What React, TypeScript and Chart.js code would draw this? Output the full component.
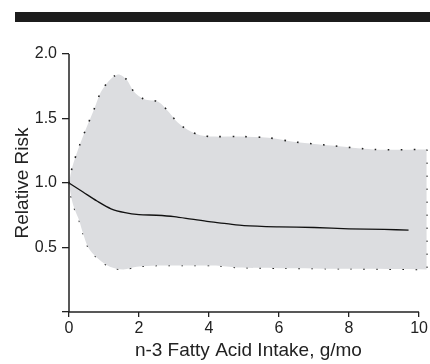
import React, { useEffect, useRef } from "react";
import { Chart, registerables } from "chart.js";

Chart.register(...registerables);

// Upper confidence bound
const upperX = [0, 0.1, 0.3, 0.5, 0.7, 0.9, 1.1, 1.3, 1.45, 1.65, 1.85, 2.15, 2.55, 2.85, 3.1, 3.4, 3.75, 4.1, 4.9, 5.7, 6.4, 7.5, 8.7, 10.22];
const upperY = [1.0, 1.13, 1.29, 1.43, 1.56, 1.7, 1.78, 1.83, 1.84, 1.8, 1.71, 1.65, 1.63, 1.55, 1.47, 1.41, 1.37, 1.36, 1.36, 1.35, 1.32, 1.29, 1.26, 1.26];
// Lower confidence bound
const lowerX = [0, 0.08, 0.17, 0.29, 0.4, 0.55, 0.8, 1.17, 1.55, 1.94, 2.5, 3.5, 4.2, 4.8, 6, 8, 10.22];
const lowerY = [1.0, 0.87, 0.79, 0.71, 0.61, 0.5, 0.42, 0.35, 0.33, 0.35, 0.36, 0.36, 0.36, 0.345, 0.34, 0.335, 0.33];
// Point estimate
const estX = [0, 0.4, 0.8, 1.2, 1.6, 2.0, 2.5, 3.0, 3.5, 4.0, 4.5, 5.0, 6.0, 7.0, 8.0, 9.0, 9.7];
const estY = [1.0, 0.93, 0.86, 0.8, 0.77, 0.755, 0.75, 0.74, 0.72, 0.7, 0.685, 0.67, 0.66, 0.655, 0.645, 0.64, 0.635];

const xTicks = [0, 2, 4, 6, 8, 10];
const yTicks = [0, 0.5, 1.0, 1.5, 2.0];

const FONT = "'Liberation Sans', Arial, sans-serif";
const INK = "#222222";

const pts = (xs: number[], ys: number[]) => xs.map((x, i) => ({ x, y: ys[i] }));

export default function App() {
  const ref = useRef<HTMLCanvasElement | null>(null);
  useEffect(() => {
    if (!ref.current) return;
    const axesPlugin = {
      id: "axesLines",
      afterDraw(chart: any) {
        const { ctx, scales } = chart;
        const x = scales.x;
        const y = scales.y;
        const x0 = x.getPixelForValue(0);
        const x1 = x.getPixelForValue(10);
        const y0 = y.getPixelForValue(0);
        const y1 = y.getPixelForValue(2);
        ctx.save();
        ctx.strokeStyle = INK;
        ctx.lineWidth = 1.5;
        ctx.beginPath();
        ctx.moveTo(x0, y1);
        ctx.lineTo(x0, y0);
        ctx.lineTo(x1, y0);
        ctx.stroke();
        ctx.restore();
      },
    };
    const dotted = {
      borderColor: INK,
      borderWidth: 1.6,
      borderDash: [1.6, 11.4],
      pointRadius: 0,
      tension: 0.3,
      clip: false as any,
      order: 2,
    };
    const chart = new Chart(ref.current, {
      type: "line",
      data: {
        datasets: [
          {
            ...dotted,
            data: pts(upperX, upperY),
            backgroundColor: "#dcdde0",
            fill: "+1",
          },
          {
            ...dotted,
            data: pts(lowerX, lowerY),
            fill: false,
          },
          {
            ...dotted,
            tension: 0,
            data: [
              { x: upperX[upperX.length - 1], y: upperY[upperY.length - 1] },
              { x: lowerX[lowerX.length - 1], y: lowerY[lowerY.length - 1] },
            ],
            fill: false,
          },
          {
            data: pts(estX, estY),
            borderColor: "#111111",
            borderWidth: 1.3,
            pointRadius: 0,
            tension: 0.3,
            fill: false,
            order: 0,
          },
        ],
      },
      options: {
        animation: false,
        responsive: false,
        events: [],
        layout: { padding: { top: 54, left: 11, right: 2, bottom: 0 } },
        plugins: { legend: { display: false }, tooltip: { enabled: false } },
        scales: {
          x: {
            type: "linear",
            min: 0,
            max: 10.25,
            afterBuildTicks: (s: any) => {
              s.ticks = xTicks.map((v) => ({ value: v }));
            },
            afterFit: (s: any) => {
              s.height = 52;
            },
            ticks: {
              color: INK,
              font: { family: FONT, size: 16 },
              padding: 2,
              maxRotation: 0,
              callback: (v: any) => String(v),
            },
            grid: { display: true, drawOnChartArea: false, drawTicks: true, tickLength: 5, color: INK, lineWidth: 1.3 },
            border: { display: false },
            title: {
              display: true,
              text: "n-3 Fatty Acid Intake, g/mo",
              color: INK,
              font: { family: FONT, size: 19 },
              padding: { top: 0, bottom: 2 },
            },
          },
          y: {
            type: "linear",
            min: 0,
            max: 2,
            afterBuildTicks: (s: any) => {
              s.ticks = yTicks.map((v) => ({ value: v }));
            },
            afterFit: (s: any) => {
              s.width = 58;
            },
            ticks: {
              color: INK,
              font: { family: FONT, size: 16 },
              padding: 5,
              callback: (v: any) => (Number(v) === 0 ? "" : Number(v).toFixed(1)),
            },
            grid: { display: true, drawOnChartArea: false, drawTicks: true, tickLength: 7, color: INK, lineWidth: 1.3 },
            border: { display: false },
            title: {
              display: true,
              text: "Relative Risk",
              color: INK,
              font: { family: FONT, size: 19 },
              padding: { top: 0, bottom: 0 },
            },
          },
        },
      },
      plugins: [axesPlugin],
    });
    return () => chart.destroy();
  }, []);

  return (
    <div style={{ position: "fixed", left: 0, top: 0, width: 430, height: 364, background: "#ffffff" }}>
      <div style={{ position: "absolute", left: 15, top: 12, width: 415, height: 10, background: "#1c1c1c" }} />
      <canvas ref={ref} width={430} height={364} style={{ display: "block", width: 430, height: 364 }} />
    </div>
  );
}
